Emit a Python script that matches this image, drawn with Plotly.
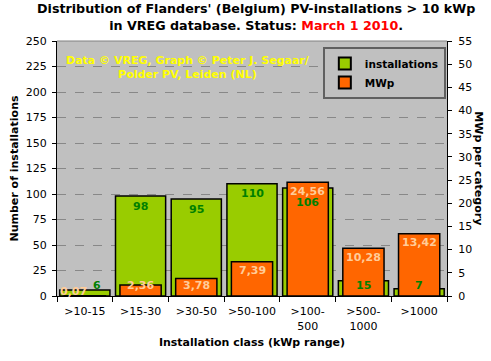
import plotly.graph_objects as go

categories = [">10-15", ">15-30", ">30-50", ">50-100", ">100-<br>500", ">500-<br>1000", ">1000"]
installations = [6, 98, 95, 110, 106, 15, 7]
mwp = [0.07, 2.36, 3.78, 7.39, 24.56, 10.28, 13.42]
left_ticks = list(range(0, 251, 25))
right_ticks = list(range(0, 56, 5))

GREEN = "#99CC00"
ORANGE = "#FF6600"
FONT = "DejaVu Sans"

fig = go.Figure()
fig.add_trace(go.Bar(x=categories, y=installations, name="<b>installations</b>", yaxis="y",
                     width=0.9, marker=dict(color=GREEN, line=dict(color="black", width=1.5))))
fig.add_trace(go.Bar(x=categories, y=mwp, name="<b>MWp</b>", yaxis="y2",
                     width=0.74, marker=dict(color=ORANGE, line=dict(color="black", width=1.5))))

ann = []
for i, (c, n, m) in enumerate(zip(categories, installations, mwp)):
    small_n = n < 20
    small_m = m < 4.3
    both = small_n and small_m
    covered = (m / 55) > (n / 250)
    ann.append(dict(x=c, y=max(n, 20), xref="x", yref="y", text=f"<b>{n}</b>",
                    showarrow=False, yshift=-15 if (covered and not small_n) else -10,
                    xshift=12 if both else 0,
                    font=dict(family=FONT, size=11, color="#008000")))
    ann.append(dict(x=c, y=max(m, 4.3), xref="x", yref="y2",
                    text="<b>" + f"{m:.2f}".replace(".", ",") + "</b>",
                    showarrow=False, yshift=-15 if both else -9, xshift=-11 if both else 0,
                    font=dict(family=FONT, size=11, color="#FFCC99")))

ann.append(dict(x=0.336, y=0.955, xref="paper", yref="paper", xanchor="center", yanchor="top",
                text="<b>Data © VREG, Graph © Peter J. Segaar/<br>Polder PV, Leiden (NL)</b>",
                showarrow=False, align="center",
                font=dict(family=FONT, size=11, color="#FFFF00")))
ann.append(dict(x=1.08, y=0.5, xref="paper", yref="paper", textangle=90,
                xanchor="center", yanchor="middle",
                text="<b>MWp per category</b>", showarrow=False,
                font=dict(family=FONT, size=11, color="black")))
ann.append(dict(x=0.51, y=1.094, xref="paper", yref="paper", xanchor="center", yanchor="middle",
                text="<b>Distribution of Flanders' (Belgium) PV-installations &gt; 10 kWp<br>"
                     "in VREG database. Status: <span style='color:#FF0000'>March 1 2010</span>.</b>",
                showarrow=False, align="center",
                font=dict(family=FONT, size=12.7, color="black")))

fig.update_layout(
    width=491, height=361,
    margin=dict(l=57, r=44, t=41, b=65, autoexpand=False),
    paper_bgcolor="white", plot_bgcolor="#C0C0C0",
    barmode="overlay",
    font=dict(family=FONT, size=11, color="black"),
    xaxis=dict(type="category", tickson="boundaries", ticks="outside", ticklen=5,
               tickcolor="black", showline=True, linecolor="black", linewidth=1,
               showgrid=False, tickangle=0, automargin=False, ticklabelstandoff=5,
               tickfont=dict(family=FONT, size=11),
               title=dict(text="<b>Installation class (kWp range)</b>", standoff=6,
                          font=dict(family=FONT, size=11))),
    yaxis=dict(range=[0, 250], tickvals=left_ticks, ticks="outside", ticklen=4,
               tickcolor="black", showline=True, linecolor="black", linewidth=1,
               showgrid=True, gridcolor="#888888", griddash="dash", gridwidth=1,
               zeroline=False, automargin=False, ticklabelstandoff=3,
               tickfont=dict(family=FONT, size=11),
               title=dict(text="<b>Number of installations</b>", standoff=4,
                          font=dict(family=FONT, size=11))),
    yaxis2=dict(range=[0, 55], tickvals=right_ticks, overlaying="y", side="right",
                ticks="outside", ticklen=4, tickcolor="black", showline=True,
                linecolor="black", linewidth=1, showgrid=False, zeroline=False,
                automargin=False, ticklabelstandoff=4,
                tickfont=dict(family=FONT, size=11)),
    legend=dict(x=0.997, xanchor="right", y=0.976, yanchor="top",
                bgcolor="#C0C0C0", bordercolor="#606060", borderwidth=2,
                font=dict(family=FONT, size=10.5), tracegroupgap=0, itemwidth=30,
                itemsizing="constant"),
    annotations=ann,
    shapes=[dict(type="line", xref="paper", yref="paper", x0=0, x1=1, y0=1, y1=1,
                 line=dict(color="#808080", width=1))],
)

fig.write_html("out.html", config={"displayModeBar": False},
               post_script="document.body.style.margin='0';document.body.style.overflow='hidden';")
